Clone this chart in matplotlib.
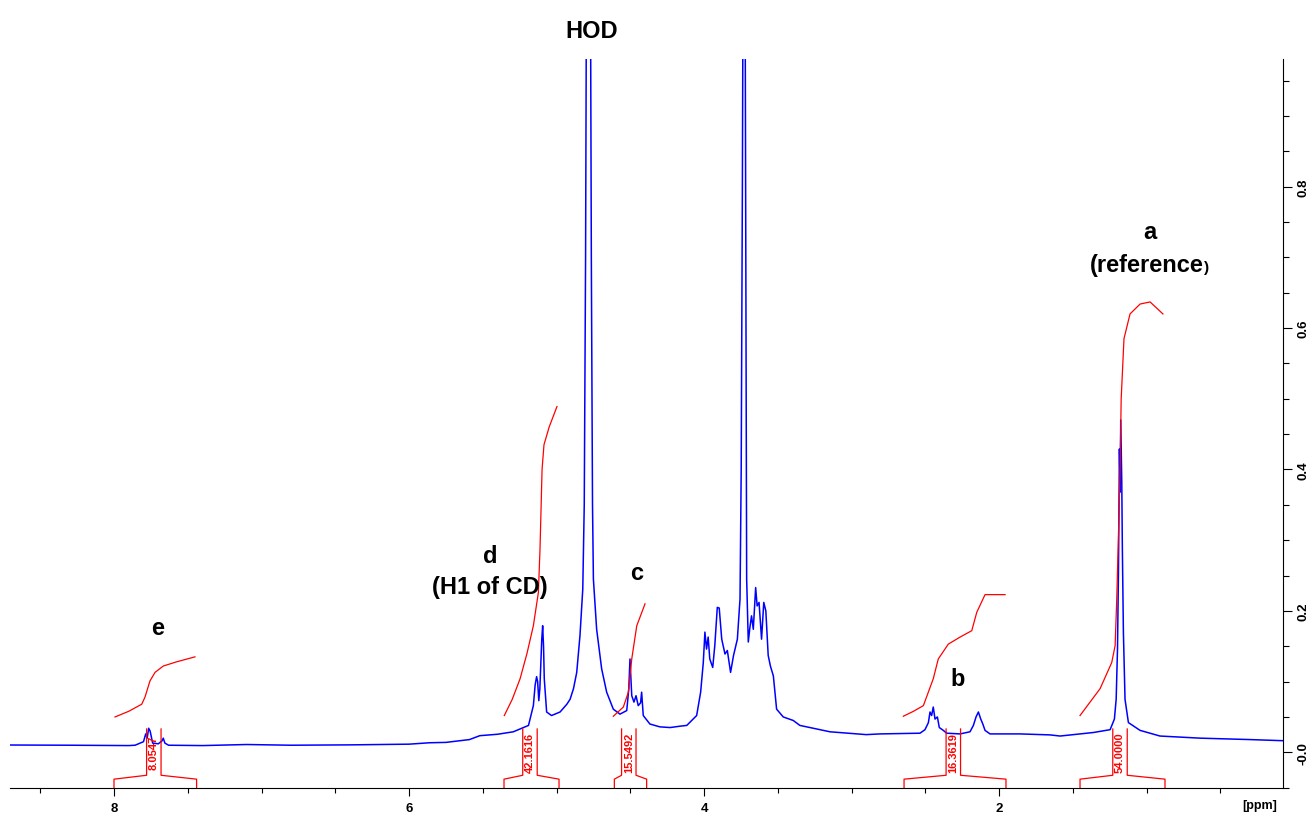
import matplotlib
matplotlib.use('Agg')
import matplotlib.pyplot as plt
from matplotlib.ticker import MultipleLocator

plt.rcParams['font.family'] = ['Liberation Sans', 'DejaVu Sans']

# 1H spectrum (ppm, intensity)
ppm = [8.705, 8.30, 7.90, 7.857, 7.80, 7.785, 7.775, 7.765, 7.755, 7.738, 7.70, 7.675,
       7.666, 7.655, 7.63, 7.40, 7.10, 6.80, 6.40, 6.00, 5.86, 5.75, 5.59, 5.52, 5.40,
       5.293, 5.19, 5.157, 5.145, 5.135, 5.128, 5.120, 5.113, 5.100, 5.094, 5.088, 5.083,
       5.067, 5.034, 4.976, 4.930, 4.908, 4.885, 4.863, 4.841, 4.822, 4.812, 4.803, 4.797,
       4.783, 4.770, 4.764, 4.756, 4.750, 4.728, 4.694, 4.660, 4.615, 4.570, 4.524, 4.510,
       4.502, 4.497, 4.490, 4.475, 4.461, 4.446, 4.430, 4.423, 4.412, 4.367, 4.30, 4.23,
       4.16, 4.117, 4.05, 4.023, 4.005, 3.994, 3.983, 3.972, 3.961, 3.941, 3.927, 3.910,
       3.897, 3.880, 3.858, 3.842, 3.820, 3.800, 3.774, 3.756, 3.748, 3.740, 3.728, 3.718,
       3.713, 3.711, 3.700, 3.690, 3.678, 3.666, 3.650, 3.640, 3.627, 3.610, 3.595, 3.581,
       3.565, 3.550, 3.530, 3.508, 3.463, 3.395, 3.350, 3.146, 2.900, 2.807, 2.536, 2.502,
       2.479, 2.468, 2.457, 2.446, 2.434, 2.418, 2.405, 2.378, 2.355, 2.264, 2.197, 2.174,
       2.156, 2.140, 2.124, 2.110, 2.095, 2.061, 1.858, 1.654, 1.586, 1.450, 1.360, 1.247,
       1.218, 1.206, 1.197, 1.190, 1.186, 1.184, 1.179, 1.175, 1.168, 1.164, 1.157, 1.146,
       1.123, 1.044, 0.909, 0.637, 0.30, 0.075]
intensity = [0.0103, 0.0100, 0.0095, 0.0100, 0.015, 0.026, 0.020, 0.034, 0.030, 0.013, 0.012, 0.016,
             0.020, 0.013, 0.010, 0.0095, 0.0110, 0.0100, 0.0105, 0.0115, 0.0135, 0.0140, 0.0180, 0.0235, 0.0255,
             0.029, 0.038, 0.066, 0.095, 0.107, 0.100, 0.073, 0.090, 0.160, 0.179, 0.150, 0.104,
             0.057, 0.052, 0.057, 0.068, 0.075, 0.090, 0.113, 0.165, 0.231, 0.35, 0.70, 1.10,
             1.60, 1.10, 0.70, 0.35, 0.245, 0.174, 0.118, 0.085, 0.061, 0.054, 0.059, 0.090,
             0.132, 0.110, 0.080, 0.071, 0.080, 0.066, 0.070, 0.085, 0.052, 0.040, 0.036, 0.035,
             0.037, 0.038, 0.052, 0.085, 0.127, 0.170, 0.146, 0.163, 0.132, 0.120, 0.151, 0.205,
             0.204, 0.160, 0.139, 0.144, 0.113, 0.137, 0.160, 0.217, 0.40, 0.80, 1.60, 0.80,
             0.40, 0.245, 0.156, 0.175, 0.193, 0.174, 0.233, 0.207, 0.212, 0.160, 0.212, 0.200,
             0.137, 0.122, 0.108, 0.061, 0.050, 0.045, 0.038, 0.029, 0.025, 0.026, 0.027, 0.032,
             0.042, 0.057, 0.052, 0.064, 0.047, 0.050, 0.035, 0.031, 0.027, 0.026, 0.029, 0.038,
             0.050, 0.057, 0.047, 0.040, 0.031, 0.026, 0.026, 0.0246, 0.023, 0.026, 0.028, 0.032,
             0.047, 0.075, 0.146, 0.264, 0.377, 0.429, 0.368, 0.470, 0.382, 0.288, 0.170, 0.075,
             0.042, 0.031, 0.023, 0.020, 0.018, 0.0164]

# integral traces (red)
int_e_ppm = [7.993, 7.90, 7.812, 7.79, 7.756, 7.722, 7.666, 7.575, 7.451]
int_e_val = [0.050, 0.058, 0.068, 0.078, 0.101, 0.113, 0.122, 0.128, 0.135]
int_d_ppm = [5.354, 5.30, 5.247, 5.20, 5.157, 5.123, 5.112, 5.098, 5.085, 5.05, 4.997]
int_d_val = [0.052, 0.075, 0.104, 0.140, 0.179, 0.226, 0.287, 0.400, 0.435, 0.460, 0.489]
int_c_ppm = [4.615, 4.547, 4.513, 4.490, 4.456, 4.400]
int_c_val = [0.051, 0.064, 0.085, 0.132, 0.179, 0.210]
int_b_ppm = [2.649, 2.58, 2.513, 2.446, 2.412, 2.344, 2.264, 2.185, 2.151, 2.095, 1.959]
int_b_val = [0.051, 0.058, 0.066, 0.104, 0.132, 0.153, 0.163, 0.172, 0.198, 0.223, 0.223]
int_a_ppm = [1.451, 1.315, 1.236, 1.213, 1.202, 1.190, 1.179, 1.172, 1.153, 1.112, 1.044, 0.976, 0.889]
int_a_val = [0.052, 0.090, 0.127, 0.151, 0.217, 0.311, 0.405, 0.500, 0.585, 0.620, 0.634, 0.637, 0.620]

# integration regions
region_start = [8.0, 5.356, 4.608, 2.644, 1.451]
region_end = [7.44, 4.983, 4.389, 1.953, 0.875]
region_mid = [7.73, 5.18, 4.51, 2.31, 1.18]
region_value = ['8.0547', '42.1616', '15.5492', '16.3619', '54.0000']

xticks = [8, 6, 4, 2]
yticks = [0.0, 0.2, 0.4, 0.6, 0.8]
ytick_labels = ['-0.0', '0.2', '0.4', '0.6', '0.8']

fig = plt.figure(figsize=(13.12, 8.2), dpi=100)
ax = fig.add_axes([10 / 1312, 31 / 820, 1273 / 1312, 729 / 820])

ax.plot(ppm, intensity, color='#0000ff', lw=1.1)

for xs, ys in [(int_e_ppm, int_e_val), (int_d_ppm, int_d_val), (int_c_ppm, int_c_val),
               (int_b_ppm, int_b_val), (int_a_ppm, int_a_val)]:
    ax.plot(xs, ys, color='#ff0000', lw=0.9)

ax.set_xlim(8.705, 0.075)
ax.set_ylim(-0.0505, 0.9806)

# integral brackets under the baseline
y_bot, y_end, y_base, y_top = -0.0505, -0.038, -0.0325, 0.033
half = 0.049
for s, e, m, lab in zip(region_start, region_end, region_mid, region_value):
    ax.plot([s, s, m + half, m + half], [y_bot, y_end, y_base, y_top],
            color='#ff0000', lw=0.9, clip_on=False)
    ax.plot([e, e, m - half, m - half], [y_bot, y_end, y_base, y_top],
            color='#ff0000', lw=0.9, clip_on=False)
    ax.text(m, (y_base + y_top) / 2, lab, rotation=90, ha='center', va='center',
            color='#ff0000', fontsize=8, fontweight='bold')

# peak labels
lab_kw = dict(fontsize=17, fontweight='bold', ha='center', va='center')
ax.text(4.76, 1.021, 'HOD', **lab_kw)
ax.text(0.976, 0.736, 'a', **lab_kw)
ax.text(0.61, 0.681, '(reference', fontsize=17, fontweight='bold', ha='right', va='baseline')
ax.text(0.61, 0.681, ')', fontsize=11, fontweight='bold', ha='left', va='baseline')
ax.text(5.451, 0.278, 'd', **lab_kw)
ax.text(5.451, 0.234, '(H1 of CD)', **lab_kw)
ax.text(4.454, 0.255, 'c', **lab_kw)
ax.text(2.278, 0.104, 'b', **lab_kw)
ax.text(7.702, 0.176, 'e', **lab_kw)

ax.spines['left'].set_visible(False)
ax.spines['top'].set_visible(False)
ax.spines['right'].set_linewidth(0.8)
ax.spines['bottom'].set_linewidth(0.8)

ax.set_xticks(xticks)
ax.set_xticklabels([str(t) for t in xticks], fontweight='bold')
ax.xaxis.set_minor_locator(MultipleLocator(0.5))
ax.tick_params(axis='x', which='major', length=6, width=0.8, labelsize=9.5, pad=4)
ax.tick_params(axis='x', which='minor', length=3.5, width=0.8)

ax.yaxis.tick_right()
ax.set_yticks(yticks)
ax.set_yticklabels(ytick_labels, fontweight='bold', rotation=90, va='center')
ax.yaxis.set_minor_locator(MultipleLocator(0.05))
ax.tick_params(axis='y', which='major', length=6.5, width=0.8, labelsize=9.5, pad=4)
ax.tick_params(axis='y', which='minor', length=4, width=0.8)

fig.text(1260 / 1312, 1 - 806 / 820, '[ppm]', ha='center', va='center',
         fontweight='bold', fontsize=9)

fig.savefig('out.png', dpi=100)
